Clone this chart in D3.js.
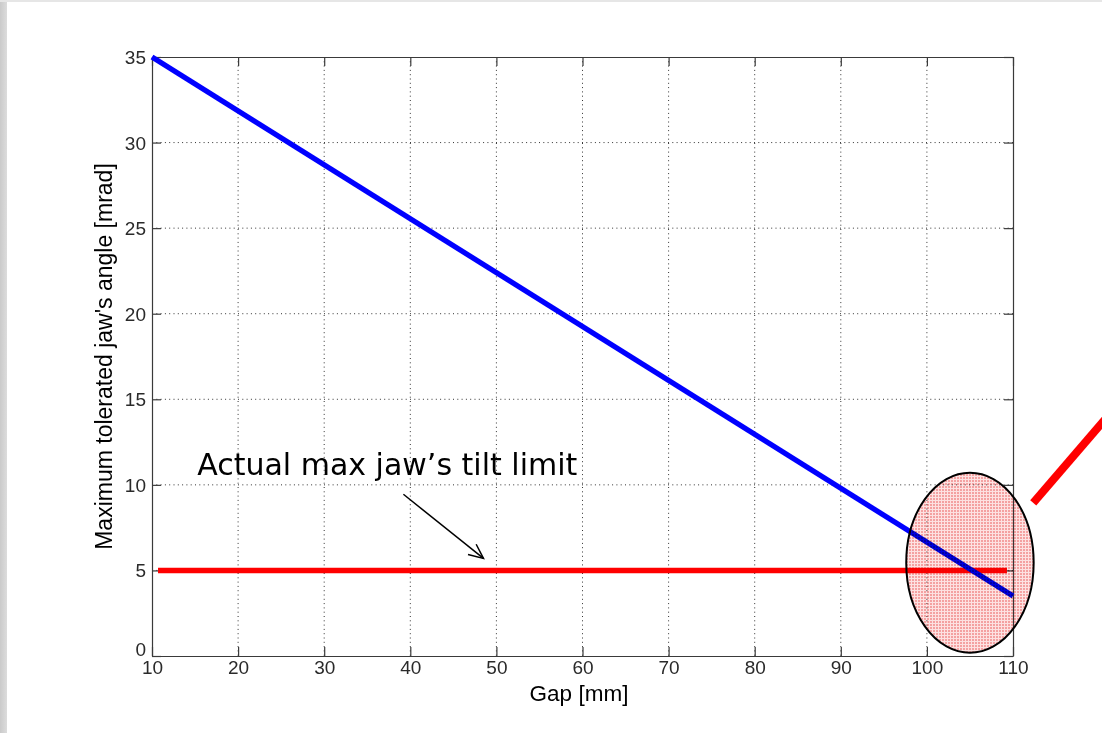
<!DOCTYPE html>
<html>
<head>
<meta charset="utf-8">
<script src="https://cdn.jsdelivr.net/npm/d3@7"></script>
<style>
  html, body { margin: 0; padding: 0; background: #fff; }
  svg { display: block; }
  .tick text { font-family: "Liberation Sans", Arial, sans-serif; }
</style>
</head>
<body>
<svg id="chart" width="1102" height="733"></svg>
<script>
// Data
const gapValues = [10, 110];
const angleValues = [35, 3.5];
const limitGap = [10.7, 109.3];
const limitAngle = [5, 5];
const xTicks = [10, 20, 30, 40, 50, 60, 70, 80, 90, 100, 110];
const yTicks = [0, 5, 10, 15, 20, 25, 30, 35];
const annotationText = "Actual max jaw\u2019s tilt limit";
const xLabel = "Gap [mm]";
const yLabel = "Maximum tolerated jaw's angle [mrad]";

const width = 1102, height = 733;
const margin = { left: 152, right: 1013, top: 57, bottom: 656 };

const svg = d3.select("#chart");

// slide frame
const defs = svg.append("defs");
const grad = defs.append("linearGradient").attr("id", "leftEdge");
grad.append("stop").attr("offset", "0%").attr("stop-color", "#cacaca");
grad.append("stop").attr("offset", "100%").attr("stop-color", "#dcdcdc");
svg.append("rect").attr("x", 0).attr("y", 0).attr("width", 7).attr("height", height).attr("fill", "url(#leftEdge)");
svg.append("rect").attr("x", 0).attr("y", 0).attr("width", width).attr("height", 2).attr("fill", "#e6e6e6");

// pink hatch for the highlight ellipse
const pat = defs.append("pattern")
    .attr("id", "pinkGrid")
    .attr("patternUnits", "userSpaceOnUse")
    .attr("width", 3).attr("height", 3);
pat.append("rect").attr("width", 3).attr("height", 3).attr("fill", "#fde2e2");
pat.append("rect").attr("width", 2).attr("height", 2).attr("fill", "#f4a2a2");

const x = d3.scaleLinear().domain([10, 110]).range([margin.left, margin.right]);
const y = d3.scaleLinear().domain([0, 35]).range([margin.bottom, margin.top]);

const axisColor = "#3a3a3a";
const tickLen = 9;

// dotted grid
const grid = svg.append("g");
grid.selectAll("line.vg")
    .data(xTicks.slice(1, -1))
    .join("line")
    .attr("x1", d => x(d)).attr("x2", d => x(d))
    .attr("y1", margin.top).attr("y2", margin.bottom)
    .attr("stroke", "#333").attr("stroke-width", 1)
    .attr("stroke-dasharray", "1,3.3");
grid.selectAll("line.hg")
    .data(yTicks.slice(1, -1))
    .join("line")
    .attr("x1", margin.left).attr("x2", margin.right)
    .attr("y1", d => y(d)).attr("y2", d => y(d))
    .attr("stroke", "#333").attr("stroke-width", 1)
    .attr("stroke-dasharray", "1,3.3");

// axes (MATLAB style, ticks inside, box)
const xAxisB = svg.append("g")
    .attr("transform", `translate(0,${margin.bottom})`)
    .call(d3.axisBottom(x).tickValues(xTicks).tickSizeInner(-tickLen).tickSizeOuter(0).tickPadding(5));
const xAxisT = svg.append("g")
    .attr("transform", `translate(0,${margin.top})`)
    .call(d3.axisTop(x).tickValues(xTicks).tickSizeInner(-tickLen).tickSizeOuter(0).tickFormat(""));
const yAxisL = svg.append("g")
    .attr("transform", `translate(${margin.left},0)`)
    .call(d3.axisLeft(y).tickValues(yTicks).tickSizeInner(-tickLen).tickSizeOuter(0).tickPadding(6));
const yAxisR = svg.append("g")
    .attr("transform", `translate(${margin.right},0)`)
    .call(d3.axisRight(y).tickValues(yTicks).tickSizeInner(-tickLen).tickSizeOuter(0).tickFormat(""));

[xAxisB, xAxisT, yAxisL, yAxisR].forEach(g => {
    g.select(".domain").attr("stroke", axisColor).attr("stroke-width", 1.2);
    g.selectAll(".tick line").attr("stroke", axisColor).attr("stroke-width", 1.2);
    g.selectAll(".tick text")
        .attr("fill", "#2a2a2a")
        .style("font-size", "19px");
});
yAxisL.selectAll(".tick text").attr("x", -6).attr("dy", "0.34em");
// keep the corner "0" clear of the "10" below it
yAxisL.selectAll(".tick").filter(d => d === 0).select("text").attr("dy", "-0.05em");

// axis titles
svg.append("text")
    .attr("x", 579)
    .attr("y", 701)
    .attr("text-anchor", "middle")
    .style("font-family", "'Liberation Sans', Arial, sans-serif")
    .style("font-size", "22.5px")
    .attr("fill", "#000")
    .text(xLabel);
svg.append("text")
    .attr("transform", `translate(112,${(margin.top + margin.bottom) / 2}) rotate(-90)`)
    .attr("text-anchor", "middle")
    .style("font-family", "'Liberation Sans', Arial, sans-serif")
    .style("font-size", "23px")
    .attr("fill", "#000")
    .text(yLabel);

// limit line and tolerated-angle line
const line = d3.line().x(d => x(d[0])).y(d => y(d[1]));
svg.append("path")
    .datum(d3.zip(limitGap, limitAngle))
    .attr("d", line)
    .attr("fill", "none")
    .attr("stroke", "#ff0000")
    .attr("stroke-width", 5.5);
svg.append("path")
    .datum(d3.zip(gapValues, angleValues))
    .attr("d", line)
    .attr("fill", "none")
    .attr("stroke", "#0000ff")
    .attr("stroke-width", 5.3);

// highlight ellipse round the crossing point (multiplied so the lines show through)
svg.append("ellipse")
    .attr("cx", x(105.0)).attr("cy", y(5.45))
    .attr("rx", x(107.4) - x(100)).attr("ry", y(0) - y(5.26))
    .attr("fill", "url(#pinkGrid)")
    .style("mix-blend-mode", "multiply");
svg.append("ellipse")
    .attr("cx", x(105.0)).attr("cy", y(5.45))
    .attr("rx", x(107.4) - x(100)).attr("ry", y(0) - y(5.26))
    .attr("fill", "none")
    .attr("stroke", "#000")
    .attr("stroke-width", 2);

// callout stroke leaving the ellipse
svg.append("line")
    .attr("x1", x(112.35)).attr("y1", y(8.95))
    .attr("x2", x(121.5)).attr("y2", y(14.3))
    .attr("stroke", "#ff0000")
    .attr("stroke-width", 8);

// annotation and arrow
svg.append("text")
    .attr("x", x(15.25))
    .attr("y", y(10.6))
    .style("font-family", "'DejaVu Sans', Verdana, sans-serif")
    .style("font-size", "30px")
    .attr("fill", "#000")
    .text(annotationText);

const ax1 = x(39.2), ay1 = y(9.45), ax2 = x(48.5), ay2 = y(5.7);
svg.append("line")
    .attr("x1", ax1).attr("y1", ay1).attr("x2", ax2).attr("y2", ay2)
    .attr("stroke", "#000").attr("stroke-width", 1.5);
const ang = Math.atan2(ay2 - ay1, ax2 - ax1);
const headLen = 16, spread = 0.42;
svg.append("path")
    .attr("d", `M${ax2 - headLen * Math.cos(ang - spread)},${ay2 - headLen * Math.sin(ang - spread)}` +
        `L${ax2},${ay2}` +
        `L${ax2 - headLen * Math.cos(ang + spread)},${ay2 - headLen * Math.sin(ang + spread)}`)
    .attr("fill", "none")
    .attr("stroke", "#000")
    .attr("stroke-width", 1.5);
</script>
</body>
</html>
